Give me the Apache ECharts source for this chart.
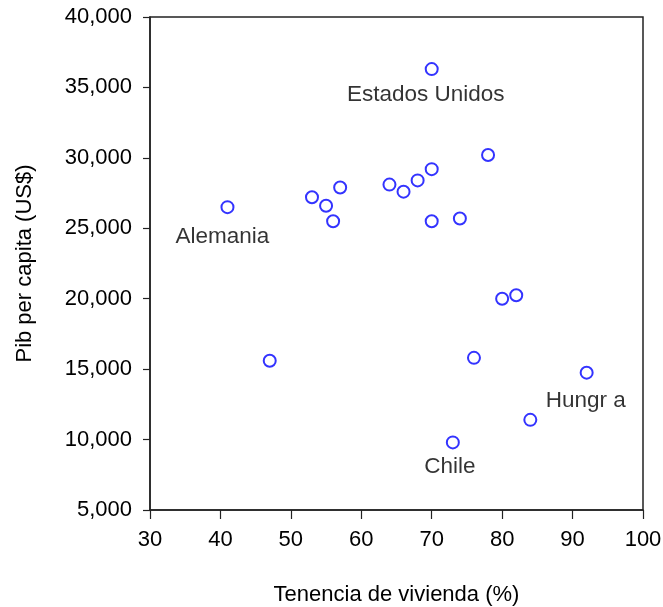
<!DOCTYPE html>
<html>
<head>
<meta charset="utf-8">
<script src="https://cdn.jsdelivr.net/npm/echarts@6/dist/echarts.min.js"></script>
<style>
  html, body { margin: 0; padding: 0; background: #fff; }
  #chart { width: 663px; height: 607px; }
</style>
</head>
<body>
<div id="chart"></div>
<script>
// tenencia de vivienda (%) y pib per capita (US$)
var tenencia = [41, 47, 53, 55, 56, 57, 64, 66, 68, 70, 70, 70, 73, 74, 76, 78, 80, 82, 84, 92];
var pib = [26500, 15600, 27200, 26600, 25500, 27900, 28100, 27600, 28400, 36300, 29200, 25500, 9800, 25700, 15800, 30200, 20000, 20250, 11400, 14750];
// paises con etiqueta (indice del punto)
var etiquetas = ['Alemania', 'Estados Unidos', 'Chile', 'Hungr a'];
var etiquetaIdx = [0, 9, 12, 19];
var etiquetaOffset = [[-5, 30], [-6, 26], [-3, 24], [-1, 28]];
var xTicks = [30, 40, 50, 60, 70, 80, 90, 100];
var yTicks = [5000, 10000, 15000, 20000, 25000, 30000, 35000, 40000];

var fuente = 'Liberation Sans';
var fmt = function (v) {
    return String(v).replace(/\B(?=(\d{3})+(?!\d))/g, ',');
};

var data = tenencia.map(function (x, i) {
    var item = { value: [x, pib[i]] };
    var k = etiquetaIdx.indexOf(i);
    if (k >= 0) {
        item.label = {
            show: true,
            formatter: etiquetas[k],
            position: 'inside',
            offset: etiquetaOffset[k],
            align: 'center',
            verticalAlign: 'middle',
            color: '#000',
            textBorderWidth: 0,
            fontFamily: fuente,
            fontSize: 22.5
        };
    }
    return item;
});

var chart = echarts.init(document.getElementById('chart'));
chart.setOption({
    animation: false,
    backgroundColor: '#fff',
    grid: {
        left: 150, top: 17, right: 20, bottom: 97,
        outerBoundsMode: 'none',
        show: true, borderColor: '#222', borderWidth: 1.5
    },
    xAxis: {
        type: 'value',
        min: xTicks[0], max: xTicks[xTicks.length - 1], interval: 10,
        name: 'Tenencia de vivienda (%)',
        nameLocation: 'middle', nameGap: 74,
        nameTextStyle: { color: '#000', fontFamily: fuente, fontSize: 22 },
        axisLine: { show: true, lineStyle: { color: '#222', width: 1.5 } },
        axisTick: { show: true, inside: false, length: 9, lineStyle: { color: '#222', width: 1.2 } },
        axisLabel: { margin: 19, color: '#000', fontFamily: fuente, fontSize: 22 },
        splitLine: { show: false }
    },
    yAxis: {
        type: 'value',
        min: yTicks[0], max: yTicks[yTicks.length - 1], interval: 5000,
        name: 'Pib per capita (US$)',
        nameLocation: 'middle', nameGap: 114,
        nameTextStyle: { color: '#000', fontFamily: fuente, fontSize: 22 },
        axisLine: { show: true, lineStyle: { color: '#222', width: 1.5 } },
        axisTick: { show: true, inside: false, length: 7, lineStyle: { color: '#222', width: 1.2 } },
        axisLabel: { margin: 18, color: '#000', fontFamily: fuente, fontSize: 22, formatter: fmt },
        splitLine: { show: false }
    },
    series: [{
        type: 'scatter',
        symbol: 'emptyCircle',
        symbolSize: 12,
        itemStyle: { color: '#0000ff', borderWidth: 1.2 },
        data: data
    }]
});
</script>
</body>
</html>
